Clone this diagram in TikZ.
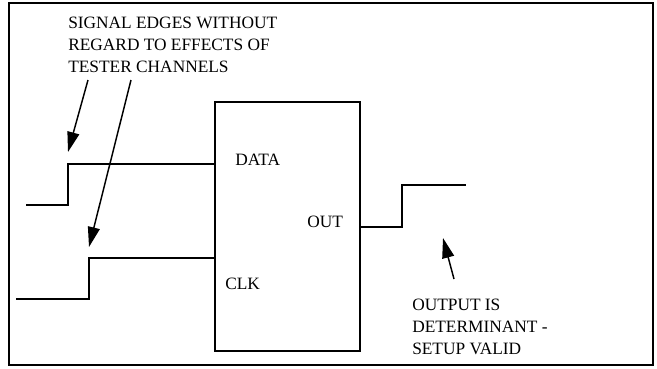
\documentclass[tikz,border=0pt]{standalone}
\usepackage{fontspec}
\setmainfont{Liberation Serif}
\usetikzlibrary{arrows.meta}
\begin{document}
\begin{tikzpicture}[x=0.75pt,y=-0.75pt,
  frame/.style={line width=2.2pt},
  sig/.style={line width=1.5pt},
  pointer/.style={line width=1.1pt,-{Triangle[length=15pt,width=9pt]}},
  lbl/.style={inner sep=0pt,anchor=north west,align=left,font=\fontsize{13}{16.5}\selectfont}]
\useasboundingbox (0,0) rectangle (657,368);
\draw[frame] (9,3) rectangle (653,365);
\node[draw,line width=1.1pt,minimum width=108.75pt,minimum height=186.75pt,inner sep=0pt] (chip) at (287.5,226.5) {};
% DATA signal
\coordinate (d0) at (26,205);
\coordinate (d1) at (68,205);
\coordinate (d2) at (68,164);
\draw[sig] (d0) -- (d1) -- (d2) -- (chip.west |- d2);
% CLK signal
\coordinate (c0) at (16,299);
\coordinate (c1) at (89,299);
\coordinate (c2) at (89,258);
\draw[sig] (c0) -- (c1) -- (c2) -- (chip.west |- c2);
% OUT signal
\coordinate (o0) at (402,227);
\coordinate (o1) at (402,185);
\coordinate (o2) at (466,185);
\draw[sig] (chip.east |- o0) -- (o0) -- (o1) -- (o2);
% labels
\node[lbl] (top) at (68,17) {SIGNAL EDGES WITHOUT\\REGARD TO EFFECTS OF\\TESTER CHANNELS};
\node[lbl] (data) at (235,154) {DATA};
\node[lbl] (out) at (307,216) {OUT};
\node[lbl] (clk) at (225,278) {CLK};
\node[lbl] (res) at (412,299) {OUTPUT IS\\DETERMINANT -\\SETUP VALID};
% pointers
\coordinate (a1s) at (88,80);
\coordinate (a1e) at (68,152);
\coordinate (a2s) at (131,80);
\coordinate (a2e) at (89,247);
\coordinate (a3s) at (454,279);
\coordinate (a3e) at (443,238);
\draw[pointer] (a1s) -- (a1e);
\draw[pointer] (a2s) -- (a2e);
\draw[pointer] (a3s) -- (a3e);
\end{tikzpicture}
\end{document}
